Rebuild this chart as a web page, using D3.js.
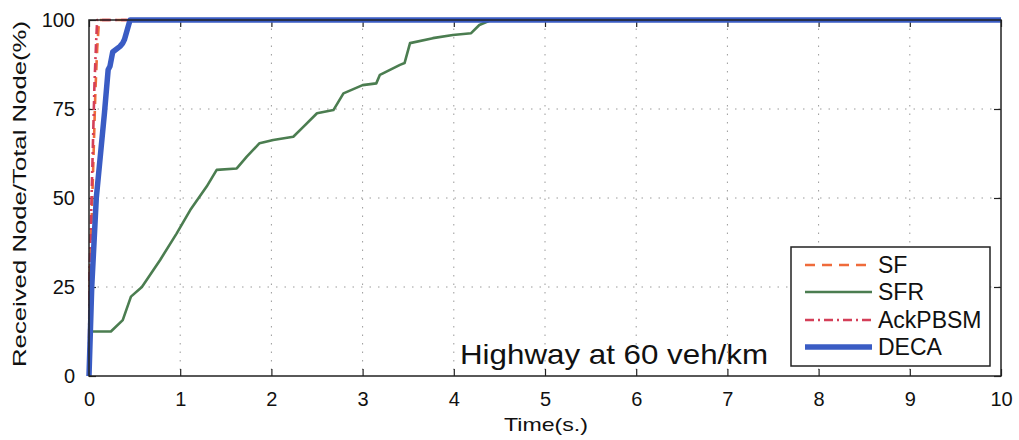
<!DOCTYPE html>
<html>
<head>
<meta charset="utf-8">
<script src="https://cdn.jsdelivr.net/npm/d3@7"></script>
<style>
  html, body { margin: 0; padding: 0; background: #fff; }
  svg { display: block; font-family: "Liberation Sans", Arial, sans-serif; }
</style>
</head>
<body>
<svg id="chart" width="1019" height="440"></svg>
<script>
// Delivery ratio over time, highway scenario at 60 veh/km
const seriesNames = ["SF", "SFR", "AckPBSM", "DECA"];

const sfTime  = [0, 0.01, 0.03, 0.05, 0.07, 0.09, 0.11, 10];
const sfValue = [0, 30, 45, 62, 80, 92, 100, 100];

const sfrTime  = [0, 0.03, 0.24, 0.37, 0.46, 0.58, 0.78, 0.96, 1.11, 1.29, 1.40, 1.62, 1.73, 1.87, 2.02, 2.24, 2.35, 2.50, 2.68, 2.79, 3.00, 3.15, 3.19, 3.41, 3.46, 3.52, 3.77, 3.99, 4.19, 4.28, 4.41, 10];
const sfrValue = [11, 12.5, 12.5, 15.7, 22.3, 25, 32.6, 40, 46.6, 53.2, 57.9, 58.3, 61.6, 65.4, 66.3, 67.2, 70, 73.8, 74.7, 79.4, 81.7, 82.2, 84.6, 87.4, 87.9, 93.5, 94.9, 95.8, 96.3, 98.6, 100, 100];

const ackTime  = [0, 0.005, 0.02, 0.04, 0.06, 0.08, 0.09, 10];
const ackValue = [0, 28, 42, 62, 82, 95, 100, 100];

const decaTime  = [0, 0.03, 0.08, 0.17, 0.21, 0.23, 0.26, 0.34, 0.37, 0.39, 0.45, 10];
const decaValue = [0, 25, 50, 74, 86, 87, 91, 92.6, 93.5, 94.6, 100, 100];

const xTicks = [0, 1, 2, 3, 4, 5, 6, 7, 8, 9, 10];
const yTicks = [0, 25, 50, 75, 100];

const styles = {
  SF:      { color: "#ef6b3b", width: 2.6, dash: "10,7" },
  SFR:     { color: "#4b7d50", width: 2.6, dash: null },
  AckPBSM: { color: "#d43f58", width: 2.6, dash: "9,4,2,4" },
  DECA:    { color: "#3a5cc4", width: 5.5, dash: null }
};

const zip = (t, v) => t.map((d, i) => ({ t: d, v: v[i] }));
const series = {
  SF: zip(sfTime, sfValue),
  SFR: zip(sfrTime, sfrValue),
  AckPBSM: zip(ackTime, ackValue),
  DECA: zip(decaTime, decaValue)
};

const svg = d3.select("#chart");
const plotL = 89, plotR = 1001, plotT = 20, plotB = 376;

const x = d3.scaleLinear().domain([0, 10]).range([plotL, plotR]);
const y = d3.scaleLinear().domain([0, 100]).range([plotB, plotT]);

// dotted grid
const grid = svg.append("g").attr("stroke", "#9a9a9a").attr("stroke-width", 1)
  .attr("stroke-dasharray", "1.5,7");
grid.selectAll(".gx").data(xTicks.slice(1, -1)).join("line").attr("class", "gx")
  .attr("x1", d => x(d)).attr("x2", d => x(d)).attr("y1", plotT).attr("y2", plotB);
grid.selectAll(".gy").data(yTicks.slice(1, -1)).join("line").attr("class", "gy")
  .attr("x1", plotL).attr("x2", plotR).attr("y1", d => y(d)).attr("y2", d => y(d));

// inward ticks on all four sides
const tickLen = 7;
const xAxisB = d3.axisBottom(x).tickValues(xTicks).tickSize(-tickLen).tickPadding(16).tickFormat(d3.format("d"));
const xAxisT = d3.axisTop(x).tickValues(xTicks).tickSize(-tickLen).tickFormat("");
const yAxisL = d3.axisLeft(y).tickValues(yTicks).tickSize(-tickLen).tickPadding(14).tickFormat(d3.format("d"));
const yAxisR = d3.axisRight(y).tickValues(yTicks).tickSize(-tickLen).tickFormat("");

function styleAxis(g) {
  g.select(".domain").remove();
  g.selectAll(".tick line").attr("stroke", "#222").attr("stroke-width", 1.2);
  g.selectAll(".tick text").attr("fill", "#111").style("font-size", "20px")
    .style("font-family", "'Liberation Sans', Arial, sans-serif");
}
svg.append("g").attr("transform", `translate(0,${plotB})`).call(xAxisB).call(styleAxis);
svg.append("g").attr("transform", `translate(0,${plotT})`).call(xAxisT).call(styleAxis);
svg.append("g").attr("transform", `translate(${plotL},0)`).call(yAxisL).call(styleAxis);
svg.append("g").attr("transform", `translate(${plotR},0)`).call(yAxisR).call(styleAxis);

// series lines
const line = d3.line().x(d => x(d.t)).y(d => y(d.v));
const order = ["SFR", "SF", "AckPBSM", "DECA"];
svg.append("g").selectAll("path").data(order).join("path")
  .attr("d", k => line(series[k]))
  .attr("fill", "none")
  .attr("stroke", k => styles[k].color)
  .attr("stroke-width", k => styles[k].width)
  .attr("stroke-dasharray", k => styles[k].dash)
  .attr("stroke-linejoin", "round");

// plot frame
svg.append("rect").attr("x", plotL).attr("y", plotT)
  .attr("width", plotR - plotL).attr("height", plotB - plotT)
  .attr("fill", "none").attr("stroke", "#222").attr("stroke-width", 1.5);

// scenario caption
svg.append("text").attr("x", 460).attr("y", 364)
  .attr("textLength", 308).attr("lengthAdjust", "spacingAndGlyphs")
  .style("font-size", "28px").attr("fill", "#111")
  .text("Highway at 60 veh/km");

// legend
const lg = svg.append("g");
lg.append("rect").attr("x", 791).attr("y", 247).attr("width", 199).attr("height", 119)
  .attr("fill", "#fff").attr("stroke", "#222").attr("stroke-width", 1.5);
const ly = [265, 292, 320, 347];
const items = lg.selectAll(".item").data(seriesNames).join("g").attr("class", "item")
  .attr("transform", (d, i) => `translate(0,${ly[i]})`);
items.append("line").attr("x1", 805).attr("x2", 872).attr("y1", 0).attr("y2", 0)
  .attr("stroke", k => styles[k].color)
  .attr("stroke-width", k => styles[k].width)
  .attr("stroke-dasharray", k => styles[k].dash);
items.append("text").attr("x", 878).attr("y", 8)
  .style("font-size", "23px").attr("fill", "#111").text(d => d);

// axis titles
svg.append("text").attr("x", 546).attr("y", 431).attr("text-anchor", "middle")
  .attr("textLength", 84).attr("lengthAdjust", "spacingAndGlyphs")
  .style("font-size", "19px").attr("fill", "#111").text("Time(s.)");
svg.append("text").attr("transform", "translate(26,194) rotate(-90)")
  .attr("text-anchor", "middle")
  .attr("textLength", 346).attr("lengthAdjust", "spacingAndGlyphs")
  .style("font-size", "18px").attr("fill", "#111").text("Received Node/Total Node(%)");
</script>
</body>
</html>
